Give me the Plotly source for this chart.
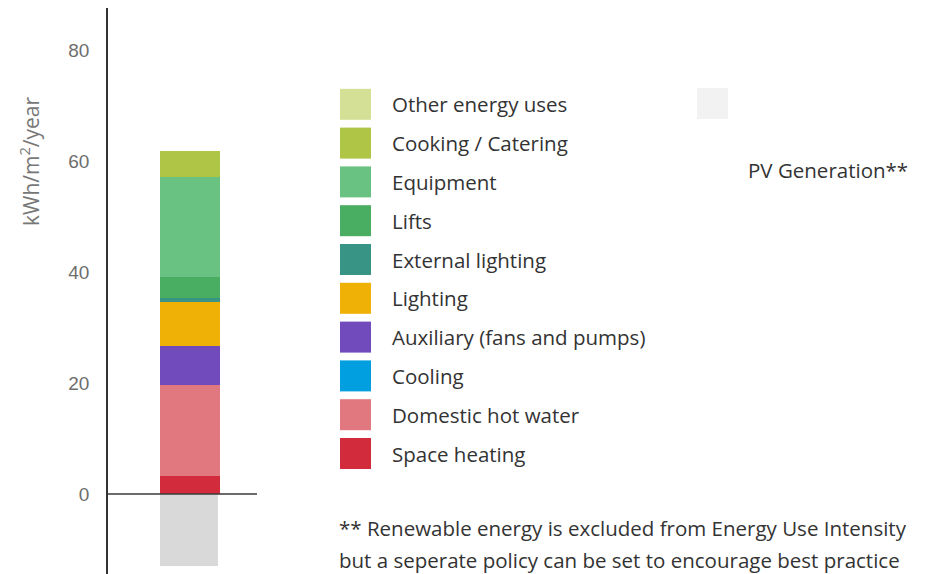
import plotly.graph_objects as go

# Energy use breakdown, bottom of the stack first
categories = [
    "Space heating",
    "Domestic hot water",
    "Cooling",
    "Auxiliary (fans and pumps)",
    "Lighting",
    "External lighting",
    "Lifts",
    "Equipment",
    "Cooking / Catering",
    "Other energy uses",
]
values = [3.2, 16.5, 0.0, 6.9, 8.0, 0.7, 3.9, 17.9, 4.7, 0.0]
colors = [
    "#d22b3b", "#e17880", "#019fe0", "#714bbb", "#efb106",
    "#389484", "#4aae62", "#69c281", "#afc545", "#d3e096",
]

pv_label = "PV Generation**"
pv_value = [-13.0]
pv_bar_color = "#d9d9d9"
pv_swatch_color = "#f2f2f2"

y_ticks = [0, 20, 40, 60, 80]
y_title = "kWh/m<sup>2</sup>/year"
footnote_lines = [
    "** Renewable energy is excluded from Energy Use Intensity",
    "but a seperate policy can be set to encourage best practice",
]

W, H = 926, 574
ML, MR, MT, MB = 108, 0, 8, 0
PW, PH = W - ML - MR, H - MT - MB


def px(x):
    return (x - ML) / PW


def py(y):
    return (H - MB - y) / PH


fig = go.Figure()
for name, v, c in zip(categories, values, colors):
    fig.add_trace(go.Bar(x=[0], y=[v], name=name, marker=dict(color=c, line=dict(width=0)),
                         width=1.0, showlegend=False))
fig.add_trace(go.Bar(x=[0], y=pv_value, name=pv_label,
                     marker=dict(color=pv_bar_color, line=dict(width=0)),
                     width=0.97, offset=-0.5, showlegend=False))

shapes = []
annotations = []

# zero baseline drawn over the bars
shapes.append(dict(type="line", xref="x domain", yref="y", x0=0, x1=1, y0=0, y1=0,
                   line=dict(color="#3a3a3a", width=1.5), layer="above"))

# hand-built legend: swatches + labels, top row is the last stacked series
font_txt = "'Open Sans', 'Noto Sans', sans-serif"
txt_size = 20.5
row0, step = 104.3, 38.8
for i, (name, c) in enumerate(zip(reversed(categories), reversed(colors))):
    cy = row0 + step * i
    shapes.append(dict(type="rect", xref="paper", yref="paper",
                       x0=px(340), x1=px(371), y0=py(cy - 15.5), y1=py(cy + 15.5),
                       fillcolor=c, line=dict(width=0), layer="above"))
    annotations.append(dict(xref="paper", yref="paper", x=px(390), y=py(cy),
                            text=name, showarrow=False, xanchor="left", yanchor="middle",
                            font=dict(family=font_txt, size=txt_size, color="#333333")))

shapes.append(dict(type="rect", xref="paper", yref="paper",
                   x0=px(697), x1=px(728), y0=py(119), y1=py(88),
                   fillcolor=pv_swatch_color, line=dict(width=0), layer="above"))
annotations.append(dict(xref="paper", yref="paper", x=px(910), y=py(170),
                        text=pv_label, showarrow=False, xanchor="right", yanchor="middle",
                        font=dict(family=font_txt, size=txt_size, color="#333333")))

for line, cy in zip(footnote_lines, [528, 560]):
    annotations.append(dict(xref="paper", yref="paper", x=px(337), y=py(cy),
                            text=line, showarrow=False, xanchor="left", yanchor="middle",
                            font=dict(family=font_txt, size=txt_size, color="#333333")))

annotations.append(dict(xref="paper", yref="paper", x=px(29), y=py(161),
                        text=y_title, showarrow=False, textangle=-90,
                        xanchor="center", yanchor="middle",
                        font=dict(family=font_txt, size=21, color="#777777")))

fig.update_layout(
    width=W, height=H,
    margin=dict(l=ML, r=MR, t=MT, b=MB, pad=0),
    paper_bgcolor="white", plot_bgcolor="white",
    barmode="relative", bargap=0,
    shapes=shapes, annotations=annotations,
    xaxis=dict(domain=[0, 149 / PW], range=[-1.367, 1.117], visible=False, fixedrange=True),
    yaxis=dict(range=[-14.4, 87.6], tickvals=y_ticks, showgrid=False, zeroline=False,
               showline=True, linecolor="#333333", linewidth=1.5, ticks="",
               ticklabelstandoff=13,
               tickfont=dict(family="Arial, sans-serif", size=19, color="#6e6e6e")),
    showlegend=False,
)

fig.write_html("out.html")
